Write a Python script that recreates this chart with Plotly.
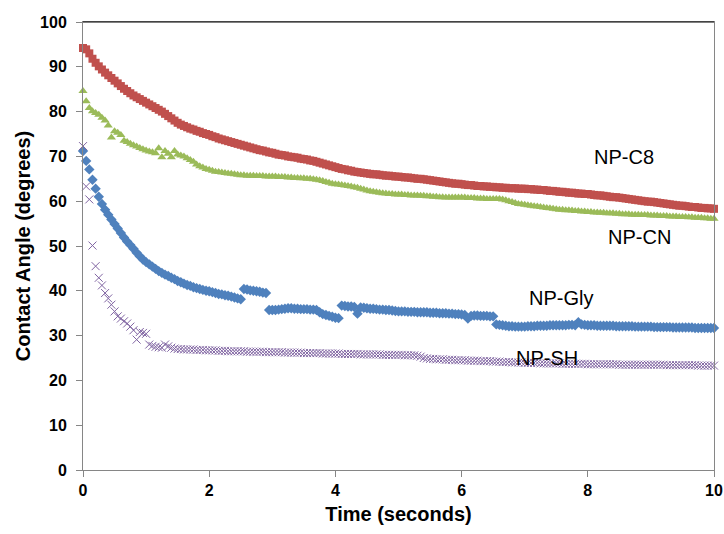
import plotly.graph_objects as go

# time axis (seconds), one sample every 0.05 s
time_s = [round(i * 0.05, 2) for i in range(201)]

np_c8 = [
    94.2, 93.9, 93.0, 91.8, 90.9, 90.1, 89.4, 88.7, 88.1, 87.5, 86.9, 86.3, 85.7, 85.1, 84.6, 84.1, 83.6, 83.2, 82.8, 82.4,
    82.0, 81.6, 81.2, 80.8, 80.4, 80.0, 79.5, 79.0, 78.5, 78.0, 77.5, 77.1, 76.8, 76.5, 76.2, 76.0, 75.7, 75.5, 75.2, 75.0,
    74.8, 74.5, 74.3, 74.0, 73.8, 73.6, 73.4, 73.2, 73.0, 72.8, 72.6, 72.4, 72.2, 72.0, 71.8, 71.6, 71.4, 71.3, 71.1, 70.9,
    70.8, 70.6, 70.4, 70.3, 70.2, 70.0, 69.9, 69.8, 69.7, 69.5, 69.4, 69.3, 69.1, 69.0, 68.8, 68.6, 68.4, 68.2, 68.0, 67.8,
    67.6, 67.4, 67.2, 67.1, 66.9, 66.8, 66.6, 66.5, 66.4, 66.3, 66.2, 66.1, 66.0, 66.0, 65.9, 65.8, 65.7, 65.7, 65.6, 65.5,
    65.5, 65.4, 65.3, 65.3, 65.2, 65.1, 65.0, 65.0, 64.9, 64.8, 64.7, 64.6, 64.5, 64.4, 64.3, 64.2, 64.1, 64.0, 63.9, 63.9,
    63.8, 63.7, 63.6, 63.6, 63.5, 63.4, 63.4, 63.3, 63.3, 63.2, 63.2, 63.1, 63.1, 63.0, 63.0, 62.9, 62.9, 62.9, 62.8, 62.8,
    62.8, 62.7, 62.7, 62.6, 62.6, 62.5, 62.5, 62.4, 62.3, 62.3, 62.2, 62.1, 62.1, 62.0, 61.9, 61.9, 61.8, 61.7, 61.7, 61.6,
    61.6, 61.5, 61.4, 61.3, 61.3, 61.2, 61.1, 61.0, 60.9, 60.9, 60.8, 60.7, 60.6, 60.5, 60.4, 60.3, 60.2, 60.1, 60.0, 59.9,
    59.9, 59.8, 59.7, 59.6, 59.5, 59.4, 59.3, 59.2, 59.1, 59.0, 59.0, 58.9, 58.8, 58.7, 58.7, 58.6, 58.5, 58.5, 58.4, 58.4,
    58.3,
]

np_cn = [
    84.6, 82.3, 80.8, 80.1, 79.7, 79.3, 78.6, 78.0, 76.9, 74.2, 75.6, 75.3, 74.8, 73.5, 73.2, 72.8, 72.5, 72.2, 71.9, 71.6,
    71.3, 71.1, 70.9, 70.7, 71.8, 69.8, 71.2, 70.6, 69.8, 71.2, 70.4, 70.2, 70.0, 69.6, 69.2, 68.8, 68.2, 67.8, 67.5, 67.2,
    67.0, 66.8, 66.6, 66.5, 66.4, 66.3, 66.2, 66.1, 66.0, 65.9, 65.8, 65.8, 65.7, 65.7, 65.7, 65.6, 65.6, 65.6, 65.5, 65.5,
    65.5, 65.5, 65.4, 65.4, 65.4, 65.3, 65.3, 65.2, 65.2, 65.1, 65.1, 65.0, 65.0, 64.9, 64.8, 64.7, 64.5, 64.3, 64.1, 63.9,
    63.8, 63.7, 63.6, 63.5, 63.4, 63.3, 63.1, 63.0, 62.8, 62.6, 62.4, 62.2, 62.1, 62.0, 61.9, 61.8, 61.7, 61.6, 61.6, 61.5,
    61.5, 61.5, 61.4, 61.4, 61.3, 61.3, 61.3, 61.2, 61.2, 61.1, 61.1, 61.0, 61.0, 60.9, 60.9, 60.8, 60.8, 60.8, 60.8, 60.8,
    60.8, 60.8, 60.7, 60.7, 60.7, 60.6, 60.6, 60.6, 60.5, 60.5, 60.5, 60.5, 60.5, 60.4, 60.2, 60.0, 59.8, 59.6, 59.4, 59.3,
    59.2, 59.1, 59.0, 58.9, 58.8, 58.7, 58.6, 58.5, 58.4, 58.3, 58.2, 58.1, 58.1, 58.0, 58.0, 57.9, 57.8, 57.8, 57.7, 57.7,
    57.6, 57.6, 57.5, 57.5, 57.4, 57.4, 57.3, 57.3, 57.3, 57.2, 57.2, 57.1, 57.1, 57.1, 57.0, 57.0, 57.0, 56.9, 56.9, 56.9,
    56.8, 56.8, 56.8, 56.7, 56.7, 56.7, 56.6, 56.6, 56.6, 56.5, 56.5, 56.5, 56.4, 56.4, 56.3, 56.3, 56.3, 56.2, 56.2, 56.1,
    56.1,
]

np_gly = [
    71.2, 69.0, 67.1, 64.8, 62.8, 61.0, 59.4, 58.1, 57.0, 55.9, 54.9, 53.9, 52.9, 51.9, 51.0, 50.2, 49.4, 48.5, 47.7, 47.0,
    46.4, 45.9, 45.4, 44.9, 44.4, 44.0, 43.6, 43.3, 42.9, 42.6, 42.2, 41.9, 41.6, 41.3, 41.1, 40.8, 40.6, 40.4, 40.2, 40.0,
    39.9, 39.7, 39.5, 39.3, 39.2, 39.0, 38.9, 38.7, 38.5, 38.3, 38.1, 40.4, 40.3, 40.1, 40.0, 39.9, 39.8, 39.6, 39.5, 35.7,
    35.7, 35.7, 35.8, 35.9, 36.0, 36.1, 36.1, 36.0, 36.0, 35.9, 35.9, 35.9, 35.8, 35.8, 35.7, 35.2, 34.8, 34.6, 34.4, 34.2,
    34.0, 33.9, 36.7, 36.6, 36.5, 36.5, 36.4, 34.9, 36.3, 36.2, 36.1, 36.0, 36.0, 35.9, 35.8, 35.8, 35.7, 35.7, 35.6, 35.5,
    35.4, 35.4, 35.4, 35.3, 35.3, 35.3, 35.2, 35.2, 35.2, 35.2, 35.1, 35.1, 35.1, 35.0, 35.0, 35.0, 34.9, 34.9, 34.8, 34.8,
    34.7, 34.6, 33.8, 34.4, 34.5, 34.5, 34.4, 34.4, 34.4, 34.3, 34.3, 32.5, 32.4, 32.3, 32.2, 32.1, 32.1, 32.0, 32.0, 32.0,
    32.0, 32.1, 32.1, 32.1, 32.2, 32.2, 32.2, 32.2, 32.3, 32.3, 32.3, 32.3, 32.3, 32.3, 32.4, 32.4, 32.3, 33.0, 32.5, 32.4,
    32.3, 32.3, 32.3, 32.2, 32.2, 32.2, 32.2, 32.2, 32.2, 32.1, 32.1, 32.1, 32.1, 32.1, 32.1, 32.0, 32.0, 32.0, 32.0, 32.0,
    32.0, 31.9, 31.9, 31.9, 31.9, 31.9, 31.9, 31.8, 31.8, 31.8, 31.8, 31.8, 31.8, 31.8, 31.7, 31.7, 31.7, 31.7, 31.7, 31.7,
    31.7,
]

np_sh = [
    72.3, 63.3, 60.4, 50.1, 45.5, 42.9, 41.2, 39.5, 38.3, 36.9, 35.4, 34.3, 33.8, 33.2, 32.7, 32.0, 31.2, 29.1, 30.8, 30.6,
    30.4, 28.0, 27.7, 27.5, 27.4, 27.3, 28.0, 27.6, 27.3, 27.1, 27.0, 27.0, 26.9, 26.9, 26.9, 26.9, 26.8, 26.8, 26.8, 26.7,
    26.7, 26.7, 26.7, 26.6, 26.6, 26.6, 26.5, 26.5, 26.5, 26.5, 26.5, 26.5, 26.4, 26.4, 26.4, 26.4, 26.4, 26.4, 26.3, 26.3,
    26.3, 26.3, 26.3, 26.3, 26.2, 26.2, 26.2, 26.2, 26.2, 26.2, 26.1, 26.1, 26.1, 26.1, 26.1, 26.1, 26.0, 26.0, 26.0, 26.0,
    26.0, 26.0, 25.9, 25.9, 25.9, 25.9, 25.9, 25.9, 25.8, 25.8, 25.8, 25.8, 25.8, 25.8, 25.8, 25.7, 25.7, 25.7, 25.7, 25.7,
    25.7, 25.7, 25.6, 25.6, 25.6, 25.6, 25.5, 25.3, 25.0, 24.9, 24.8, 24.8, 24.7, 24.7, 24.7, 24.6, 24.6, 24.6, 24.5, 24.5,
    24.5, 24.5, 24.4, 24.4, 24.4, 24.4, 24.3, 24.3, 24.3, 24.3, 24.2, 24.2, 24.2, 24.1, 24.1, 24.1, 24.0, 24.0, 24.0, 24.0,
    23.9, 23.9, 23.9, 23.9, 23.9, 23.8, 23.8, 23.8, 23.8, 23.8, 23.8, 23.8, 23.7, 23.7, 23.7, 23.7, 23.7, 23.7, 23.7, 23.7,
    23.6, 23.6, 23.6, 23.6, 23.6, 23.6, 23.6, 23.6, 23.6, 23.6, 23.5, 23.5, 23.5, 23.5, 23.5, 23.5, 23.5, 23.5, 23.5, 23.5,
    23.5, 23.5, 23.5, 23.5, 23.5, 23.4, 23.4, 23.4, 23.4, 23.4, 23.4, 23.4, 23.4, 23.4, 23.4, 23.3, 23.3, 23.3, 23.3, 23.3,
    23.3,
]

series_names = ["NP-Gly", "NP-C8", "NP-CN", "NP-SH"]
label_x = [7.58, 8.58, 8.82, 7.36]
label_y = [38.5, 69.8, 51.9, 25.1]
x_ticks = [0, 2, 4, 6, 8, 10]
y_ticks = [0, 10, 20, 30, 40, 50, 60, 70, 80, 90, 100]

FONT = "Liberation Sans"

fig = go.Figure()

fig.add_trace(go.Scatter(
    x=time_s, y=np_gly, mode="markers", name=series_names[0], cliponaxis=False,
    marker=dict(symbol="diamond", size=8, color="#4F81BD", line=dict(width=0)),
))
fig.add_trace(go.Scatter(
    x=time_s, y=np_c8, mode="markers", name=series_names[1], cliponaxis=False,
    marker=dict(symbol="square", size=8, color="#C0504D", line=dict(width=0)),
))
fig.add_trace(go.Scatter(
    x=time_s, y=np_cn, mode="markers", name=series_names[2], cliponaxis=False,
    marker=dict(symbol="triangle-up", size=8, color="#9BBB59", line=dict(width=0)),
))
fig.add_trace(go.Scatter(
    x=time_s, y=np_sh, mode="markers", name=series_names[3], cliponaxis=False,
    marker=dict(symbol="x-thin-open", size=8, color="#8064A2",
                line=dict(width=1, color="#8064A2")),
))

for name, lx, ly in zip(series_names, label_x, label_y):
    fig.add_annotation(x=lx, y=ly, text=name, showarrow=False,
                       font=dict(family=FONT, size=20, color="#000000"))

# dark top border of the plot area
fig.add_shape(type="line", xref="paper", yref="paper", x0=0, x1=1, y0=1, y1=1,
              line=dict(color="#000000", width=1))

fig.update_layout(
    width=724, height=534,
    margin=dict(l=83, r=10, t=22, b=64),
    paper_bgcolor="white", plot_bgcolor="white",
    showlegend=False,
    font=dict(family=FONT, color="#000000"),
)
fig.update_xaxes(
    range=[0, 10], tickvals=x_ticks, ticktext=[str(v) for v in x_ticks],
    showgrid=False, zeroline=False, automargin=False,
    showline=True, linecolor="#868686", linewidth=1, mirror=True,
    ticks="outside", ticklen=6, tickcolor="#868686",
    tickfont=dict(family=FONT, size=16, color="#000000", weight="bold"),
    title=dict(text="<b>Time (seconds)</b>", font=dict(family=FONT, size=20), standoff=8),
)
fig.update_yaxes(
    range=[0, 100], tickvals=y_ticks, ticktext=[str(v) for v in y_ticks],
    showgrid=False, zeroline=False, automargin=False,
    showline=True, linecolor="#868686", linewidth=1, mirror=True,
    ticks="outside", ticklen=6, tickcolor="#868686", ticklabelstandoff=6,
    tickfont=dict(family=FONT, size=16, color="#000000", weight="bold"),
    title=dict(text="<b>Contact Angle (degrees)</b>", font=dict(family=FONT, size=20), standoff=4),
)

# remove the default page margin so the figure sits at the window origin
fig.write_html(
    "out.html",
    config={"displayModeBar": False},
    post_script="document.body.style.margin='0';"
                "document.documentElement.style.overflow='hidden';",
)
